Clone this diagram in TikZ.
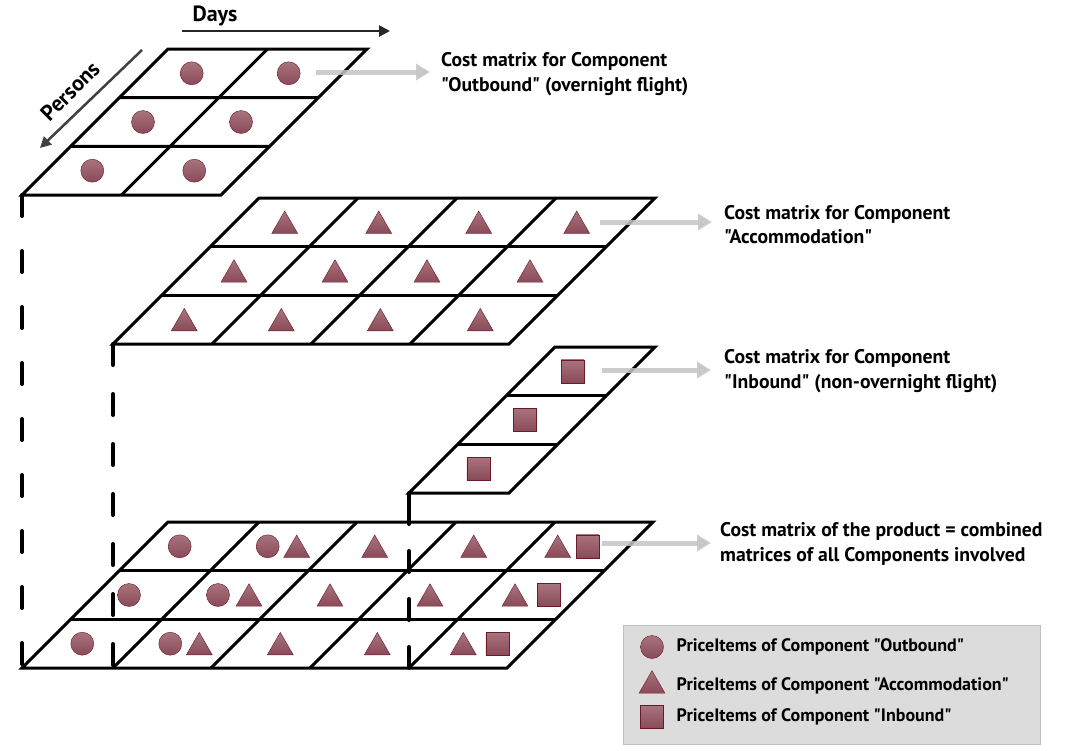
\documentclass[tikz,border=0pt]{standalone}
\usepackage{fontspec}
\setmainfont{PT Sans}[Ligatures=TeXOff]
\usetikzlibrary{positioning, shapes.geometric, arrows.meta}
\definecolor{itemtop}{HTML}{A8747E}
\definecolor{itembot}{HTML}{894A57}
\definecolor{itemrim}{HTML}{6A1A2C}
\definecolor{keyfill}{HTML}{DCDCDC}
\definecolor{keyrim}{HTML}{BFBFBF}
\definecolor{pointergray}{HTML}{C4C4C4}
\tikzset{
  cell/.style={line width=3pt},
  drop/.style={line width=4pt, line cap=round},
  ball/.style={circle, draw=itemrim, top color=itemtop, bottom color=itembot, minimum size=23pt, inner sep=0pt},
  cone/.style={regular polygon, regular polygon sides=3, draw=itemrim, top color=itemtop, bottom color=itembot, minimum size=30pt, inner sep=0pt, yshift=-3.7pt},
  brick/.style={rectangle, draw=itemrim, top color=itemtop, bottom color=itembot, minimum size=23pt, inner sep=0pt},
  pointer/.style={draw=pointergray, line width=5pt, opacity=.85, -{Triangle[length=14pt, width=16pt]}},
  axis/.style={line width=2.5pt, draw=black!85, -{Triangle[length=11pt, width=11pt]}},
  axislabel/.style={font=\bfseries\fontsize{22}{26}\selectfont, inner sep=0pt},
  cost/.style={align=left, anchor=west, inner sep=0pt, font=\bfseries\fontsize{19.7}{24.5}\selectfont},
  keybox/.style={draw=keyrim, fill=keyfill, minimum width=417pt, minimum height=119pt},
  keytext/.style={anchor=west, inner sep=0pt, font=\bfseries\fontsize{18}{21}\selectfont}
}
\begin{document}
\begin{tikzpicture}[x=1pt, y=-1pt]
\useasboundingbox (0,0) rectangle (1091,750);

\begin{scope}[shift={(168,49)}, xslant=1]
\draw[cell] (0,0) rectangle (199,146);
\draw[cell] (0,48.7) -- (199,48.7) (0,97.3) -- (199,97.3) (99.5,0) -- (99.5,146);
\coordinate (ob) at (0,146);
\node[ball] (o1) at (48,24.3) {};
\node[ball] (o2) at (145,24.3) {};
\node[ball] (o3) at (48,73) {};
\node[ball] (o4) at (146,73) {};
\node[ball] (o5) at (46,121.7) {};
\node[ball] (o6) at (148,121.7) {};
\end{scope}

\begin{scope}[shift={(259,198)}, xslant=1]
\draw[cell] (0,0) rectangle (396,146);
\draw[cell] (0,48.7) -- (396,48.7) (0,97.3) -- (396,97.3);
\draw[cell] (99,0) -- (99,146) (198,0) -- (198,146) (297,0) -- (297,146);
\coordinate (ab) at (0,146);
\node[cone] (a1) at (50,24.3) {};
\node[cone] (a2) at (144,24.3) {};
\node[cone] (a3) at (244,24.3) {};
\node[cone] (a4) at (342,24.3) {};
\node[cone] (a5) at (48,73) {};
\node[cone] (a6) at (149,73) {};
\node[cone] (a7) at (241,73) {};
\node[cone] (a8) at (344,73) {};
\node[cone] (a9) at (47,121.7) {};
\node[cone] (a10) at (144,121.7) {};
\node[cone] (a11) at (243,121.7) {};
\node[cone] (a12) at (343,121.7) {};
\end{scope}

\begin{scope}[shift={(555,347)}, xslant=1]
\draw[cell] (0,0) rectangle (100,146);
\draw[cell] (0,48.7) -- (100,48.7) (0,97.3) -- (100,97.3);
\coordinate (ib) at (0,146);
\node[brick] (i1) at (42,24.3) {};
\node[brick] (i2) at (43,73) {};
\node[brick] (i3) at (45,121.7) {};
\end{scope}

\begin{scope}[shift={(168,522)}, xslant=1]
\draw[cell] (0,0) rectangle (485,146);
\draw[cell] (0,48.7) -- (485,48.7) (0,97.3) -- (485,97.3);
\draw[cell] (91,0) -- (91,146) (189,0) -- (189,146) (288,0) -- (288,146) (387,0) -- (387,146);
\coordinate (c0) at (0,146);
\coordinate (c1) at (91,146);
\coordinate (c4) at (387,146);
\coordinate (ct) at (241,0);
\node[ball] (m1) at (36,24.3) {};
\node[ball] (m2) at (124,24.3) {};
\node[cone] (m3) at (153,24.3) {};
\node[cone] (m4) at (231,24.3) {};
\node[cone] (m5) at (330,24.3) {};
\node[cone] (m6) at (414,24.3) {};
\node[brick] (m7) at (444,24.3) {};
\node[ball] (m8) at (34,73) {};
\node[ball] (m9) at (123,73) {};
\node[cone] (m10) at (154,73) {};
\node[cone] (m11) at (235,73) {};
\node[cone] (m12) at (335,73) {};
\node[cone] (m13) at (420,73) {};
\node[brick] (m14) at (454,73) {};
\node[ball] (m15) at (36,121.7) {};
\node[ball] (m16) at (124,121.7) {};
\node[cone] (m17) at (153,121.7) {};
\node[cone] (m18) at (234,121.7) {};
\node[cone] (m19) at (331,121.7) {};
\node[cone] (m20) at (417,121.7) {};
\node[brick] (m21) at (451,121.7) {};
\end{scope}

\draw[drop, dash pattern=on 21pt off 35pt] (ob) -- (c0);
\draw[drop, dash pattern=on 21pt off 29pt] (ab) -- (c1);
\draw[drop] (ib) -- (ct);
\draw[drop, dash pattern=on 21pt off 27pt] (c4) -- (ct);

\coordinate (d0) at (182,31);
\coordinate (d1) at (390,31);
\draw[axis] (d0) -- (d1);
\node[axislabel] (days) at (215,16) {Days};
\coordinate (q0) at (142,50);
\coordinate (q1) at (40,148);
\draw[axis, draw=black!75] (q0) -- (q1);
\node[axislabel, rotate=45] (persons) at (70,91) {Persons};

\node[cost] (lout) at (441,74) {Cost matrix for Component\\"Outbound" (overnight flight)};
\node[cost] (lacc) at (724,224.5) {Cost matrix for Component\\"Accommodation"};
\node[cost] (linb) at (724,371) {Cost matrix for Component\\"Inbound" (non-overnight flight)};
\node[cost] (lcmb) at (720,544) {Cost matrix of the product = combined\\matrices of all Components involved};

\coordinate (p1) at (316,72);
\coordinate (p2) at (600,222);
\coordinate (p3) at (602,370);
\coordinate (p4) at (602,543);
\draw[pointer, shorten >=11pt] (p1) -- (p1 -| lout.west);
\draw[pointer, shorten >=12pt] (p2) -- (p2 -| lacc.west);
\draw[pointer, shorten >=13pt] (p3) -- (p3 -| linb.west);
\draw[pointer, shorten >=9pt] (p4) -- (p4 -| lcmb.west);

\node[keybox] (key) at (831.5,684.5) {};
\node[ball] (k1) at (652,647) {};
\node[cone] (k2) at (652,682) {};
\node[brick] (k3) at (652,717) {};
\node[keytext, right=24.5pt of k1.center] (t1) {PriceItems of Component "Outbound"};
\node[keytext, right=24.5pt of k2.center] (t2) {PriceItems of Component "Accommodation"};
\node[keytext, right=24.5pt of k3.center] (t3) {PriceItems of Component "Inbound"};
\end{tikzpicture}
\end{document}
